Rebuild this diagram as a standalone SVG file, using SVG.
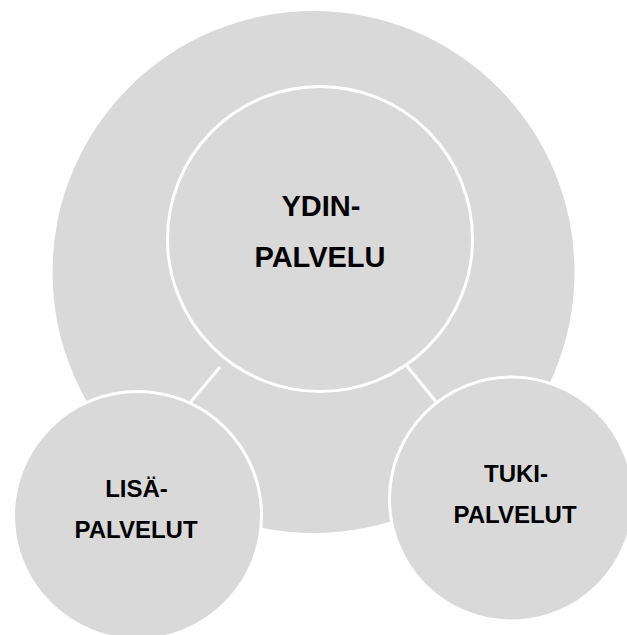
<svg xmlns="http://www.w3.org/2000/svg" width="627" height="635" viewBox="0 0 627 635">
<style>
.c{fill:#d9d9d9;stroke:#ffffff;stroke-width:3}
.o{fill:#d9d9d9}
.t{font-family:"Liberation Sans",Arial,sans-serif;font-weight:bold;fill:#000;text-anchor:middle}
.l{stroke:#ffffff;stroke-width:3;fill:none}
</style>
<rect width="627" height="635" fill="#ffffff"/>
<g id="outer"><circle class="o" cx="313.5" cy="272" r="261"/></g>
<g id="ydin">
<circle class="c" cx="320" cy="239" r="152.5"/>
<text class="t" x="321" y="216" font-size="29">YDIN-</text>
<text class="t" x="320" y="267" font-size="29">PALVELU</text>
</g>
<g id="connectors">
<line class="l" x1="220" y1="367" x2="189" y2="404"/>
<line class="l" x1="407" y1="366" x2="437" y2="403"/>
</g>
<g id="lisa">
<circle class="c" cx="137.5" cy="515.5" r="124"/>
<text class="t" x="136.5" y="497" font-size="24">LISÄ-</text>
<text class="t" x="136" y="538" font-size="24">PALVELUT</text>
</g>
<g id="tuki">
<circle class="c" cx="511.5" cy="499" r="122"/>
<text class="t" x="516" y="482" font-size="24">TUKI-</text>
<text class="t" x="515" y="523" font-size="24">PALVELUT</text>
</g>
</svg>
